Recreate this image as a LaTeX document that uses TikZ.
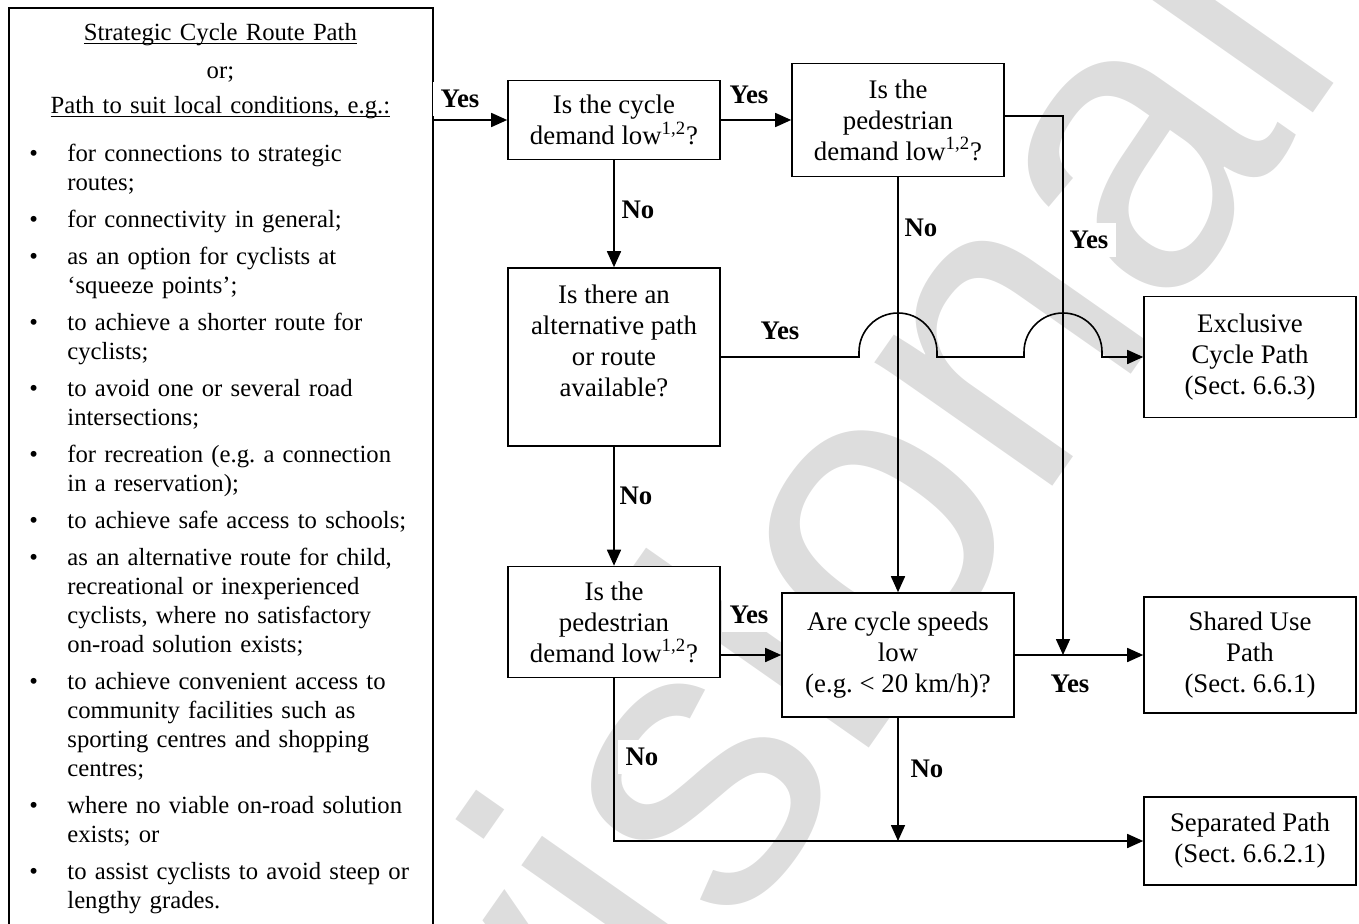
\documentclass[tikz,border=0pt]{standalone}
\usepackage{fontspec}
\setmainfont{Liberation Serif}
\newfontfamily\wmfont{Liberation Sans}
\usetikzlibrary{arrows.meta,calc}
\definecolor{wmgray}{RGB}{221,221,221}
\newcommand{\flowfont}{\fontsize{13.4}{15.5}\selectfont}
\newcommand{\hdrline}[1]{\underline{\smash{#1}}}
\makeatletter
\def\@listI{\leftmargin\leftmargini \topsep 9.5pt \partopsep 0pt \parsep 0pt \itemsep 4pt}
\let\@listi\@listI
\makeatother
\setlength{\leftmargini}{25pt}
\setlength{\labelsep}{14.75pt}
\tikzset{
  decbox/.style={draw, line width=0.8pt, fill=white, minimum width=106pt, font=\flowfont},
  qbox/.style={decbox, align=center, inner sep=2pt},
  lbl/.style={fill=white, inner sep=4pt, font=\flowfont\bfseries},
  flow/.style={line width=0.8pt, -{Triangle[length=8pt,width=7pt]}},
  wm/.style={text=wmgray, rotate=55, inner sep=0pt, font=\wmfont\fontsize{205}{205}\selectfont}
}
\begin{document}
\begin{tikzpicture}[x=5pt,y=5pt]
  \useasboundingbox (0,0) rectangle (135.9,92.3);
  \clip (0,0) rectangle (135.9,92.3);
  % watermark
  \node[wm] (watermark) at (65.5,12.5) {Provisional};
  % list of uses
  \node[draw, line width=0.8pt, fill=white, anchor=north west, minimum width=212pt, minimum height=483pt] (criteria) at (0.8,91.6) {};
  \node[anchor=north west, text width=203pt, inner sep=0pt, font=\fontsize{12.35}{14.5}\selectfont] (criteriatext) at (1.7,90.35) {%
    {\centering \strut\hdrline{Strategic Cycle Route Path}\\[4.5pt]
     or;\\[3pt]
     \hdrline{Path to suit local conditions, e.g.:}\par}
    \begin{itemize}
      \item for connections to strategic\\routes;
      \item for connectivity in general;
      \item as an option for cyclists at\\`squeeze points';
      \item to achieve a shorter route for\\cyclists;
      \item to avoid one or several road\\intersections;
      \item for recreation (e.g.\ a connection\\in a reservation);
      \item to achieve safe access to schools;
      \item as an alternative route for child,\\recreational or inexperienced\\cyclists, where no satisfactory\\on-road solution exists;
      \item to achieve convenient access to\\community facilities such as\\sporting centres and shopping\\centres;
      \item where no viable on-road solution\\exists; or
      \item to assist cyclists to avoid steep or\\lengthy grades.
    \end{itemize}};
  % labels
  \node[lbl] (yesin) at (46.0,82.4) {Yes};
  \node[lbl] (yescycle) at (74.9,82.8) {Yes};
  \node[lbl] (nocycle) at (63.8,71.3) {No};
  \node[lbl] (noped) at (92.1,69.5) {No};
  \node[lbl] (yesped) at (108.9,68.3) {Yes};
  \node[lbl] (yesalt) at (78.0,59.2) {Yes};
  \node[lbl] (noalt) at (63.6,42.7) {No};
  \node[lbl] (yespedlow) at (74.9,30.8) {Yes};
  \node[lbl] (nopedlow) at (64.2,16.6) {No};
  \node[lbl] (yesspeed) at (107.0,23.9) {Yes};
  \node[lbl] (nospeed) at (92.7,15.4) {No};
  % questions
  \node[qbox, minimum height=39.5pt] (cycle) at (61.4,80.3) {Is the cycle\\demand low\textsuperscript{1,2}?};
  \node[qbox, minimum height=56.5pt] (pedtop) at (89.8,80.3) {Is the\\pedestrian\\demand low\textsuperscript{1,2}?};
  \node[decbox, inner sep=0pt] (alt) at (61.4,56.6) {\parbox[c][89pt][t]{104pt}{\centering\vspace*{8.3pt}Is there an\\alternative path\\or route\\available?}};
  \node[qbox, minimum height=55.5pt] (pedlow) at (61.4,30.1) {Is the\\pedestrian\\demand low\textsuperscript{1,2}?};
  \node[qbox, minimum width=116pt, minimum height=62pt] (speed) at (89.8,26.8) {Are cycle speeds\\low\\(e.g.\ < 20 km/h)?};
  % outcomes
  \node[qbox, minimum height=60.5pt] (exclusive) at (125.0,56.6) {Exclusive\\Cycle Path\\(Sect.\ 6.6.3)};
  \node[qbox, minimum height=58pt] (shared) at (125.0,26.8) {Shared Use\\Path\\(Sect.\ 6.6.1)};
  \node[qbox, minimum height=44pt] (separated) at (125.0,8.2) {Separated Path\\(Sect.\ 6.6.2.1)};
  % connectors
  \coordinate (ybend) at (106.3,80.7);
  \coordinate (hopA) at (pedtop.south |- alt.east);
  \coordinate (hopB) at (ybend |- alt.east);
  \draw[flow] (criteria.east |- cycle.west) -- (cycle.west);
  \draw[flow] (cycle.east) -- (pedtop.west);
  \draw[flow] (cycle.south) -- (alt.north);
  \draw[flow] (alt.south) -- (pedlow.north);
  \draw[flow] (pedtop.south) -- (pedtop.south |- speed.north);
  \draw[flow] (pedtop.east |- ybend) -- (ybend) -- (ybend |- shared.west);
  \draw[flow] (pedlow.east |- speed.west) -- (speed.west);
  \draw[flow] (speed.east) -- (shared.west);
  \draw[flow] (speed.south) -- (speed.south |- separated.west);
  \draw[flow] (pedlow.south) -- (pedlow.south |- separated.west) -- (separated.west);
  \draw[flow] (alt.east) -- ($(hopA)+(-3.9,0)$) -- ++(0,0.5) arc[start angle=180, end angle=0, radius=3.9] -- ++(0,-0.5)
    -- ($(hopB)+(-3.9,0)$) -- ++(0,0.5) arc[start angle=180, end angle=0, radius=3.9] -- ++(0,-0.5) -- (exclusive.west);
\end{tikzpicture}
\end{document}
